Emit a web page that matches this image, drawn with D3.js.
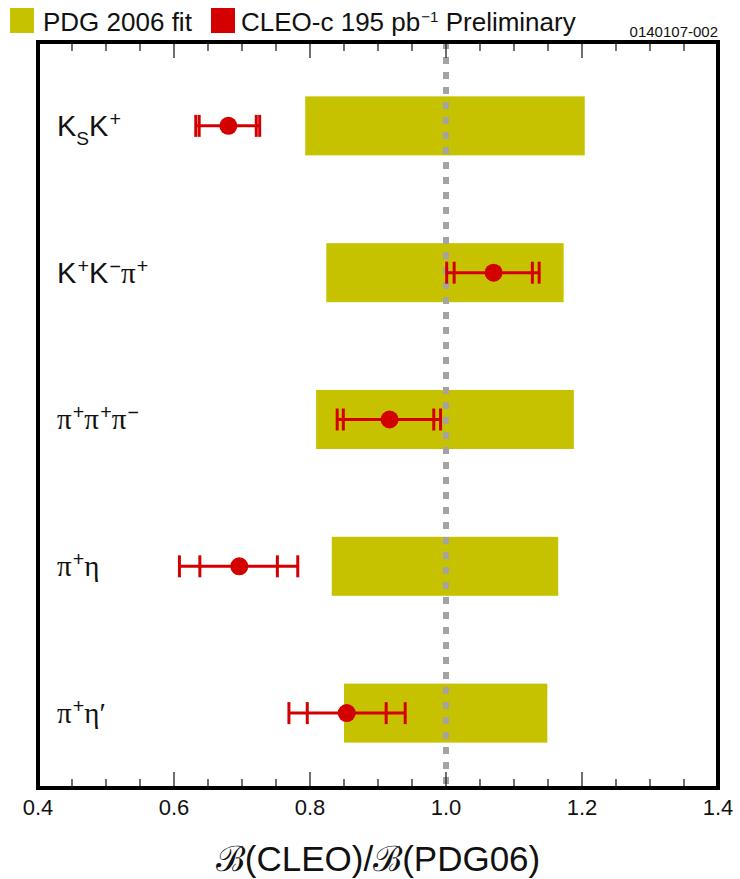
<!DOCTYPE html>
<html>
<head>
<meta charset="utf-8">
<script src="https://cdn.jsdelivr.net/npm/d3@7/dist/d3.min.js"></script>
<style>
  body { margin: 0; background: #fff; }
  text { font-family: "Liberation Sans", Arial, Helvetica, sans-serif; }
</style>
</head>
<body>
<svg id="chart" width="740" height="879"></svg>
<script>
// ---- data ----
const categories = ["K_{S}K^{+}", "K^{+}K^{\u2212}\u03C0^{+}", "\u03C0^{+}\u03C0^{+}\u03C0^{\u2212}", "\u03C0^{+}\u03B7", "\u03C0^{+}\u03B7\u2032"];
const pdgLow  = [0.793, 0.824, 0.809, 0.832, 0.850];
const pdgHigh = [1.204, 1.173, 1.188, 1.165, 1.149];
const cleoVal = [0.680, 1.070, 0.917, 0.696, 0.854];
const statLow = [0.637, 1.012, 0.849, 0.638, 0.796];
const statHigh= [0.721, 1.127, 0.982, 0.752, 0.912];
const totLow  = [0.632, 1.001, 0.840, 0.608, 0.769];
const totHigh = [0.726, 1.137, 0.992, 0.782, 0.940];
const majorTicks = [0.4, 0.6, 0.8, 1.0, 1.2, 1.4];
const majorTickLabels = ["0.4", "0.6", "0.8", "1.0", "1.2", "1.4"];
const minorTicks = [0.45,0.5,0.55,0.65,0.7,0.75,0.85,0.9,0.95,1.05,1.1,1.15,1.25,1.3,1.35];
const legendLabels = ["PDG 2006 fit", "CLEO-c 195 pb^{\u22121} Preliminary"];
const referenceValue = 1.0;
const figureId = "0140107-002";
const xTitle = "\u212C(CLEO)/\u212C(PDG06)";

// ---- layout ----
const svg = d3.select("#chart");
const fLeft = 38, fRight = 718, fTop = 42, fBottom = 788;
const yellow = "#c6c200", red = "#d40000";

const x = d3.scaleLinear().domain([0.4, 1.4]).range([fLeft, fRight]);
const y = d3.scaleLinear().domain([-0.578, 4.51]).range([41, 788]);
const idx = d3.range(categories.length);

// helper: render text with _{sub} and ^{sup}; Greek letters in a serif face
function addRun(sel, s) {
  const parts = s.match(/[\u0370-\u03FF\u2032]+|[^\u0370-\u03FF\u2032]+/g) || [];
  parts.forEach(p => {
    const ts = sel.append("tspan").text(p);
    if (/[\u0370-\u03FF\u2032]/.test(p)) ts.attr("font-family", "'Liberation Serif', 'DejaVu Serif', serif");
  });
}
function richText(sel, str, fs, supScale) {
  const re = /([_^])\{([^}]*)\}|([^_^]+)/g;
  let m;
  while ((m = re.exec(str)) !== null) {
    if (m[3]) {
      addRun(sel, m[3]);
    } else if (m[1] === "^") {
      sel.append("tspan").text(m[2]).attr("font-size", fs * (supScale || 0.58)).attr("baseline-shift", fs*0.34)
        .attr("dx", fs*0.04);
    } else {
      sel.append("tspan").text(m[2]).attr("font-size", fs * 0.66).attr("baseline-shift", -fs*0.3);
    }
  }
}

// PDG bars
const barH = 59;
svg.append("g").selectAll("rect").data(idx).join("rect")
  .attr("x", i => x(pdgLow[i]))
  .attr("width", i => x(pdgHigh[i]) - x(pdgLow[i]))
  .attr("y", i => y(i) - barH/2)
  .attr("height", barH)
  .attr("fill", yellow);

// dashed reference line
svg.append("line")
  .attr("x1", x(referenceValue)).attr("x2", x(referenceValue))
  .attr("y1", fTop).attr("y2", fBottom)
  .attr("stroke", "#a3a3a3").attr("stroke-width", 6)
  .attr("stroke-dasharray", "7,8");

// CLEO error bars
const eg = svg.append("g").attr("stroke", red).attr("stroke-width", 3).attr("fill", "none");
idx.forEach(i => {
  const yc = y(i);
  eg.append("line").attr("x1", x(totLow[i])).attr("x2", x(totHigh[i])).attr("y1", yc).attr("y2", yc);
  [totLow[i], totHigh[i], statLow[i], statHigh[i]].forEach(v => {
    eg.append("line").attr("x1", x(v)).attr("x2", x(v)).attr("y1", yc - 11).attr("y2", yc + 11);
  });
});
svg.append("g").selectAll("circle").data(idx).join("circle")
  .attr("cx", i => x(cleoVal[i])).attr("cy", i => y(i)).attr("r", 9).attr("fill", red);

// category labels
const lfs = 29;
idx.forEach(i => {
  const t = svg.append("text").attr("x", 57).attr("y", y(i) + 10).attr("font-size", lfs).attr("fill", "#111");
  richText(t, categories[i], lfs, 0.68);
});

// frame ticks (top & bottom, pointing inward)
const tg = svg.append("g").attr("stroke", "#222").attr("stroke-width", 1.3);
majorTicks.forEach(v => {
  tg.append("line").attr("x1", x(v)).attr("x2", x(v)).attr("y1", fBottom).attr("y2", fBottom - 16);
  tg.append("line").attr("x1", x(v)).attr("x2", x(v)).attr("y1", fTop).attr("y2", fTop + 16);
});
minorTicks.forEach(v => {
  tg.append("line").attr("x1", x(v)).attr("x2", x(v)).attr("y1", fBottom).attr("y2", fBottom - 9);
  tg.append("line").attr("x1", x(v)).attr("x2", x(v)).attr("y1", fTop).attr("y2", fTop + 9);
});

// frame
svg.append("rect").attr("x", fLeft).attr("y", fTop).attr("width", fRight - fLeft).attr("height", fBottom - fTop)
  .attr("fill", "none").attr("stroke", "#000").attr("stroke-width", 4);

// tick labels
svg.append("g").selectAll("text").data(majorTicks).join("text")
  .attr("x", d => x(d)).attr("y", 815).attr("text-anchor", "middle")
  .attr("font-size", 22).attr("fill", "#111")
  .text((d, i) => majorTickLabels[i]);

// axis title
svg.append("text").attr("x", 378).attr("y", 871).attr("text-anchor", "middle")
  .attr("font-size", 35).attr("fill", "#111").text(xTitle);

// legend
svg.append("rect").attr("x", 10).attr("y", 8).attr("width", 24).attr("height", 25).attr("fill", yellow);
const l1 = svg.append("text").attr("x", 43).attr("y", 31).attr("font-size", 26).attr("fill", "#111");
richText(l1, legendLabels[0], 26);
svg.append("rect").attr("x", 211).attr("y", 8).attr("width", 24).attr("height", 25).attr("fill", red);
const l2 = svg.append("text").attr("x", 241).attr("y", 31).attr("font-size", 26).attr("fill", "#111");
richText(l2, legendLabels[1], 26);
svg.append("text").attr("x", 718).attr("y", 37).attr("text-anchor", "end").attr("font-size", 15).attr("fill", "#111").text(figureId);
</script>
</body>
</html>
